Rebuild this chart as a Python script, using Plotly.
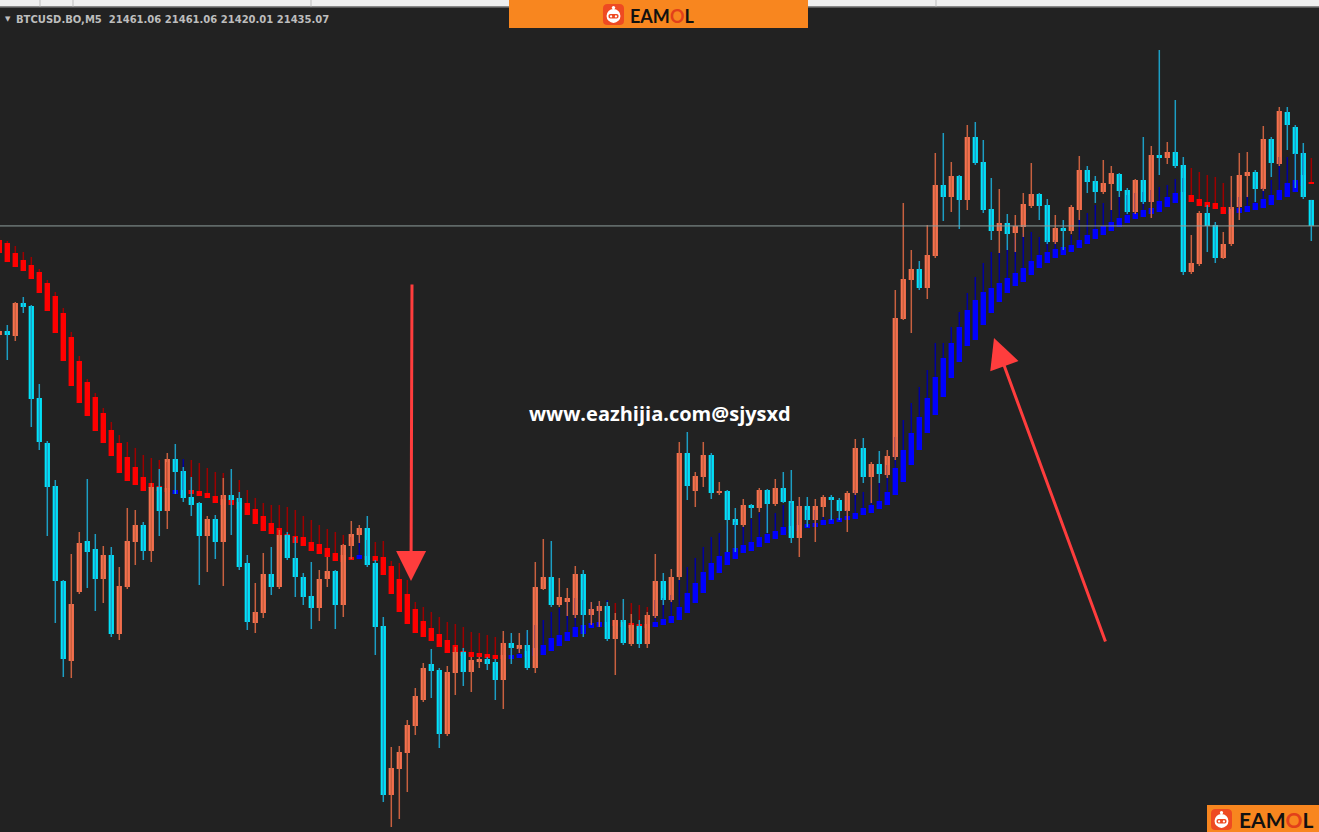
import plotly.graph_objects as go

W, H = 1319, 832

# ---------------- data ----------------
bar_index = list(range(-1, 164))

opens = [21326, 21330, 21325, 21358, 21355, 21263, 21218, 21175, 21080, 21000,
         21069, 21120, 21112, 21082, 21106, 21027, 21074, 21119, 21136, 21110,
         21174, 21150, 21202, 21190, 21164, 21158, 21125, 21142, 21119, 21166,
         21163, 21098, 21038, 21048, 21087, 21074, 21126, 21103, 21084, 21065,
         21053, 21082, 21090, 21056, 21115, 21126, 21133, 21098, 21035, 20866,
         20892, 20908, 20935, 20961, 20997, 20991, 20927, 20988, 21009, 20989,
         20999, 21002, 20999, 20981, 21018, 21012, 21016, 20993, 21072, 21084,
         21056, 21059, 21046, 21087, 21046, 21050, 21055, 21022, 21041, 21017,
         21035, 21017, 21045, 21080, 21061, 21084, 21208, 21170, 21184, 21206,
         21168, 21170, 21142, 21136, 21156, 21153, 21171, 21157, 21173, 21160,
         21123, 21155, 21141, 21154, 21164, 21161, 21150, 21168, 21213, 21184,
         21197, 21186, 21204, 21342, 21381, 21392, 21373, 21405, 21476, 21464,
         21485, 21461, 21524, 21499, 21452, 21430, 21438, 21428, 21434, 21455,
         21467, 21456, 21419, 21433, 21430, 21451, 21491, 21480, 21469, 21477,
         21487, 21471, 21449, 21481, 21459, 21506, 21503, 21509, 21496, 21389,
         21397, 21448, 21436, 21403, 21417, 21454, 21485, 21489, 21472, 21522,
         21497, 21549, 21534, 21508, 21461.06]

highs = [21332, 21336, 21359, 21364, 21356, 21277, 21220, 21181, 21081, 21107,
         21129, 21182, 21127, 21115, 21114, 21094, 21153, 21151, 21139, 21178,
         21192, 21208, 21217, 21194, 21184, 21159, 21145, 21146, 21183, 21192,
         21169, 21106, 21078, 21108, 21114, 21131, 21129, 21124, 21088, 21099,
         21091, 21104, 21091, 21117, 21140, 21136, 21145, 21101, 21044, 20914,
         20915, 20941, 20973, 20998, 21012, 20993, 20995, 21014, 21013, 21004,
         21004, 21004, 21002, 21030, 21028, 21028, 21031, 21099, 21122, 21120,
         21083, 21073, 21095, 21091, 21059, 21060, 21059, 21048, 21062, 21047,
         21041, 21049, 21107, 21088, 21092, 21219, 21229, 21189, 21219, 21208,
         21179, 21171, 21153, 21162, 21157, 21173, 21172, 21182, 21189, 21191,
         21164, 21164, 21162, 21166, 21166, 21163, 21170, 21222, 21223, 21199,
         21210, 21211, 21371, 21458, 21411, 21400, 21436, 21508, 21528, 21499,
         21486, 21536, 21539, 21521, 21483, 21472, 21447, 21446, 21468, 21498,
         21468, 21462, 21446, 21441, 21456, 21505, 21495, 21485, 21501, 21495,
         21488, 21473, 21482, 21524, 21515, 21611, 21519, 21561, 21504, 21426,
         21450, 21456, 21439, 21429, 21485, 21508, 21509, 21491, 21535, 21524,
         21554, 21554, 21536, 21518, 21461.06]

lows = [21323, 21301, 21320, 21348, 21234, 21211, 21125, 21038, 20984, 20983,
        21067, 21073, 21050, 21058, 21024, 21021, 21072, 21096, 21101, 21099,
        21125, 21132, 21167, 21159, 21145, 21076, 21089, 21102, 21075, 21126,
        21091, 21031, 21028, 21043, 21066, 21072, 21101, 21064, 21056, 21032,
        21040, 21074, 21032, 21044, 21102, 21118, 21094, 21006, 20859, 20834,
        20842, 20869, 20926, 20959, 20963, 20913, 20925, 20966, 20975, 20969,
        20993, 20991, 20961, 20952, 20997, 21008, 20991, 20988, 21071, 21054,
        21054, 21045, 21043, 21024, 21036, 21034, 21020, 20986, 21016, 21015,
        21013, 21013, 21043, 21056, 21059, 21081, 21161, 21154, 21174, 21162,
        21166, 21109, 21109, 21134, 21143, 21149, 21128, 21155, 21158, 21118,
        21104, 21134, 21119, 21144, 21141, 21141, 21129, 21166, 21178, 21158,
        21178, 21183, 21201, 21341, 21328, 21371, 21362, 21403, 21440, 21449,
        21432, 21451, 21496, 21448, 21421, 21408, 21411, 21409, 21424, 21453,
        21441, 21417, 21417, 21411, 21427, 21441, 21468, 21458, 21467, 21451,
        21464, 21447, 21447, 21457, 21443, 21486, 21497, 21493, 21386, 21387,
        21395, 21409, 21398, 21402, 21415, 21441, 21464, 21459, 21470, 21484,
        21495, 21511, 21473, 21462, 21420.01]

closes = [21330, 21326, 21358, 21354, 21262, 21219, 21174, 21080, 21002, 21057,
          21118, 21109, 21082, 21106, 21027, 21075, 21120, 21136, 21110, 21174,
          21150, 21202, 21189, 21163, 21156, 21125, 21142, 21119, 21166, 21161,
          21094, 21039, 21049, 21087, 21074, 21126, 21103, 21084, 21064, 21053,
          21082, 21090, 21056, 21116, 21127, 21133, 21096, 21034, 20866, 20893,
          20909, 20936, 20965, 20993, 20990, 20927, 20989, 21009, 20989, 21001,
          21002, 20997, 20981, 21018, 21013, 21016, 20993, 21074, 21084, 21056,
          21064, 21063, 21087, 21046, 21052, 21055, 21022, 21041, 21018, 21036,
          21017, 21046, 21080, 21061, 21084, 21208, 21175, 21185, 21206, 21168,
          21170, 21141, 21136, 21156, 21153, 21171, 21157, 21173, 21159, 21123,
          21155, 21141, 21155, 21164, 21161, 21150, 21168, 21213, 21184, 21197,
          21187, 21205, 21343, 21382, 21392, 21373, 21406, 21476, 21464, 21485,
          21461, 21524, 21498, 21451, 21430, 21438, 21427, 21435, 21457, 21467,
          21455, 21419, 21433, 21430, 21454, 21491, 21479, 21469, 21478, 21488,
          21470, 21449, 21481, 21459, 21506, 21503, 21509, 21495, 21389, 21398,
          21448, 21435, 21403, 21417, 21454, 21486, 21489, 21472, 21522, 21498,
          21550, 21536, 21507, 21464, 21435.07]

# smoothed Heiken-Ashi style band
ha_open = [21421, 21418, 21408, 21401, 21396, 21389, 21378, 21365, 21348, 21324,
           21300, 21279, 21264, 21248, 21231, 21218, 21204, 21194, 21184, 21178,
           21175, 21173, 21167, 21166, 21171, 21170, 21168, 21165, 21162, 21161,
           21159, 21158, 21152, 21145, 21138, 21133, 21127, 21125, 21124, 21119,
           21117, 21113, 21108, 21106, 21104, 21102, 21105, 21105, 21104, 21095,
           21082, 21067, 21052, 21040, 21033, 21027, 21021, 21016, 21010, 21009,
           21008, 21007, 21006, 21006, 21002, 21003, 21004, 21005, 21006, 21010,
           21015, 21020, 21024, 21027, 21033, 21034, 21034, 21041, 21039, 21038,
           21037, 21037, 21034, 21036, 21038, 21041, 21048, 21058, 21068, 21081,
           21088, 21096, 21102, 21108, 21110, 21114, 21118, 21122, 21126, 21128,
           21130, 21133, 21134, 21136, 21137, 21139, 21141, 21142, 21146, 21148,
           21152, 21156, 21166, 21179, 21196, 21211, 21228, 21246, 21264, 21283,
           21299, 21315, 21321, 21336, 21348, 21359, 21368, 21375, 21379, 21386,
           21393, 21398, 21403, 21406, 21409, 21413, 21417, 21422, 21426, 21430,
           21434, 21438, 21442, 21444, 21447, 21449, 21454, 21458, 21461, 21466,
           21462, 21459, 21458, 21454, 21447, 21448, 21449, 21451, 21453, 21456,
           21461, 21464, 21469, 21475, 21479]

ha_close = [21408, 21399, 21394, 21390, 21382, 21368, 21350, 21328, 21300, 21275,
            21258, 21245, 21230, 21218, 21205, 21188, 21180, 21176, 21170, 21173,
            21170, 21169, 21171, 21171, 21167, 21165, 21163, 21158, 21156, 21156,
            21152, 21146, 21137, 21130, 21127, 21126, 21121, 21118, 21115, 21110,
            21107, 21104, 21100, 21099, 21101, 21106, 21101, 21100, 21086, 21067,
            21049, 21037, 21028, 21024, 21020, 21014, 21008, 21008, 21005, 21004,
            21004, 21003, 21002, 21002, 21006, 21007, 21010, 21013, 21016, 21023,
            21026, 21029, 21034, 21036, 21038, 21039, 21039, 21035, 21034, 21033,
            21032, 21033, 21039, 21042, 21045, 21054, 21068, 21078, 21089, 21098,
            21105, 21109, 21113, 21116, 21119, 21124, 21127, 21130, 21134, 21135,
            21136, 21137, 21138, 21141, 21142, 21143, 21145, 21148, 21153, 21156,
            21160, 21169, 21193, 21211, 21228, 21244, 21263, 21284, 21303, 21318,
            21334, 21351, 21361, 21369, 21373, 21378, 21383, 21388, 21393, 21400,
            21406, 21409, 21412, 21414, 21416, 21421, 21426, 21432, 21435, 21439,
            21443, 21446, 21448, 21451, 21453, 21460, 21464, 21468, 21469, 21459,
            21455, 21454, 21452, 21447, 21452, 21453, 21455, 21458, 21462, 21466,
            21471, 21478, 21481, 21486, 21477]

ha_high = [21424, 21420, 21415, 21409, 21404, 21392, 21381, 21369, 21353, 21329,
           21305, 21282, 21268, 21253, 21239, 21226, 21219, 21213, 21206, 21203,
           21201, 21199, 21176, 21202, 21201, 21198, 21193, 21189, 21188, 21183,
           21181, 21171, 21163, 21158, 21156, 21156, 21154, 21151, 21145, 21141,
           21136, 21132, 21129, 21126, 21124, 21124, 21121, 21119, 21120, 21100,
           21098, 21081, 21059, 21054, 21049, 21044, 21039, 21037, 21034, 21029,
           21028, 21026, 21024, 21023, 21011, 21013, 21029, 21036, 21041, 21049,
           21053, 21059, 21063, 21061, 21059, 21059, 21061, 21058, 21058, 21058,
           21056, 21054, 21061, 21063, 21066, 21081, 21094, 21103, 21114, 21124,
           21128, 21136, 21139, 21135, 21142, 21148, 21154, 21148, 21156, 21158,
           21161, 21151, 21151, 21144, 21146, 21146, 21151, 21171, 21169, 21176,
           21178, 21196, 21224, 21241, 21258, 21274, 21291, 21318, 21318, 21334,
           21349, 21368, 21384, 21398, 21409, 21408, 21416, 21424, 21428, 21429,
           21424, 21421, 21421, 21423, 21426, 21443, 21448, 21456, 21458, 21461,
           21464, 21466, 21468, 21469, 21471, 21474, 21476, 21482, 21483, 21493,
           21489, 21486, 21484, 21478, 21464, 21464, 21466, 21468, 21473, 21481,
           21504, 21504, 21508, 21511, 21503]

symbol_label = "BTCUSD.BO,M5"
last_quote = [21461.06, 21461.06, 21420.01, 21435.07]
bid_price = 21435.07
watermark = "www.eazhijia.com@sjysxd"
brand = "EAMOL"

# ---------------- styles ----------------
BG = "#222222"
BULL, BULL_W = "#F6714E", "#C8603F"
BEAR, BEAR_W = "#00E3FA", "#1C9EC4"
HA_UP, HA_UP_W = "#0000FF", "#0000A0"
HA_DN, HA_DN_W = "#FF0000", "#9E0000"
ORANGE = "#F8861F"
ARROW = "#FF3D3D"


def px(x):
    return x / W


def py(y):
    return 1 - y / H


def segments(xs, a, b):
    X, Y = [], []
    for x, y0, y1 in zip(xs, a, b):
        X += [x, x, None]
        Y += [y0, y1, None]
    return X, Y


fig = go.Figure()
n = len(bar_index)

# indicator band
ha_up = [ha_close[k] > ha_open[k] for k in range(n)]
for flag, col in ((True, HA_UP_W), (False, HA_DN_W)):
    sel = [k for k in range(n) if ha_up[k] == flag]
    X, Y = segments([bar_index[k] for k in sel],
                    [max(ha_open[k], ha_close[k]) for k in sel],
                    [ha_high[k] for k in sel])
    fig.add_trace(go.Scatter(x=X, y=Y, mode="lines", line=dict(color=col, width=1.5),
                             hoverinfo="skip"))
fig.add_trace(go.Bar(
    x=bar_index,
    base=[min(o, c) for o, c in zip(ha_open, ha_close)],
    y=[abs(c - o) for o, c in zip(ha_open, ha_close)],
    width=0.68,
    marker=dict(color=[HA_UP if u else HA_DN for u in ha_up], line=dict(width=0)),
    hoverinfo="skip"))

# price candles
bull = [closes[k] >= opens[k] for k in range(n)]
for flag, col in ((True, BULL_W), (False, BEAR_W)):
    sel = [k for k in range(n) if bull[k] == flag]
    X, Y = segments([bar_index[k] for k in sel],
                    [lows[k] for k in sel], [highs[k] for k in sel])
    fig.add_trace(go.Scatter(x=X, y=Y, mode="lines", line=dict(color=col, width=1.5),
                             hoverinfo="skip"))
fig.add_trace(go.Bar(
    x=bar_index,
    base=[min(o, c) for o, c in zip(opens, closes)],
    y=[max(abs(c - o), 1.5) for o, c in zip(opens, closes)],
    width=0.66,
    marker=dict(color=[BULL if b else BEAR for b in bull], line=dict(width=0)),
    hoverinfo="skip"))

shapes = []
# bid line
shapes.append(dict(type="line", xref="paper", x0=0, x1=1, yref="y", y0=bid_price, y1=bid_price,
                   line=dict(color="#8E9E9C", width=1)))
# top toolbar strip
shapes.append(dict(type="rect", xref="paper", yref="paper", x0=0, x1=1, y0=py(6.5), y1=1,
                   fillcolor="#EEEEEE", line=dict(width=0)))
shapes.append(dict(type="line", xref="paper", yref="paper", x0=0, x1=1, y0=py(7.5), y1=py(7.5),
                   line=dict(color="#5A5A5A", width=1)))
for sx in (40, 73, 311, 936):
    shapes.append(dict(type="line", xref="paper", yref="paper", x0=px(sx), x1=px(sx),
                       y0=py(6.5), y1=1, line=dict(color="#BDBDBD", width=1)))


def rounded_path(x0, y0, x1, y1, r):
    pts = [("M", x0 + r, y0), ("L", x1 - r, y0), ("Q", x1, y0, x1, y0 + r), ("L", x1, y1 - r),
           ("Q", x1, y1, x1 - r, y1), ("L", x0 + r, y1), ("Q", x0, y1, x0, y1 - r),
           ("L", x0, y0 + r), ("Q", x0, y0, x0 + r, y0)]
    s = ""
    for p in pts:
        cmd = p[0]
        coords = p[1:]
        s += cmd + " " + " ".join(f"{px(coords[i]):.5f},{py(coords[i + 1]):.5f}"
                                  for i in range(0, len(coords), 2)) + " "
    return s + "Z"


annotations = []


def logo(bx0, by0, bx1, by1, ix, iy, isz, tx, ty, fsz):
    shapes.append(dict(type="rect", xref="paper", yref="paper", x0=px(bx0), x1=px(bx1),
                       y0=py(by1), y1=py(by0), fillcolor=ORANGE, line=dict(width=0)))
    shapes.append(dict(type="path", xref="paper", yref="paper",
                       path=rounded_path(ix, iy, ix + isz, iy + isz, isz * 0.22),
                       fillcolor="#EE4A22", line=dict(width=0)))
    cx, cy, r = ix + isz / 2, iy + isz * 0.57, isz * 0.33
    shapes.append(dict(type="circle", xref="paper", yref="paper", x0=px(cx - r), x1=px(cx + r),
                       y0=py(cy + r), y1=py(cy - r), fillcolor="white", line=dict(width=0)))
    shapes.append(dict(type="line", xref="paper", yref="paper", x0=px(cx), x1=px(cx),
                       y0=py(cy - r), y1=py(iy + isz * 0.17), line=dict(color="white", width=1.5)))
    ar = isz * 0.08
    shapes.append(dict(type="circle", xref="paper", yref="paper", x0=px(cx - ar), x1=px(cx + ar),
                       y0=py(iy + isz * 0.17 + ar), y1=py(iy + isz * 0.17 - ar),
                       fillcolor="white", line=dict(width=0)))
    shapes.append(dict(type="path", xref="paper", yref="paper",
                       path=rounded_path(cx - r * 0.72, cy - r * 0.3, cx + r * 0.72, cy + r * 0.35, r * 0.25),
                       fillcolor="#EE4A22", line=dict(width=0)))
    er = isz * 0.055
    for ex in (cx - r * 0.35, cx + r * 0.35):
        shapes.append(dict(type="circle", xref="paper", yref="paper", x0=px(ex - er), x1=px(ex + er),
                           y0=py(cy + 0.02 * isz + er), y1=py(cy + 0.02 * isz - er),
                           fillcolor="white", line=dict(width=0)))
    txt = brand[:3] + f"<span style='color:#E2401A'>{brand[3]}</span>" + brand[4:]
    annotations.append(dict(xref="paper", yref="paper", x=px(tx), y=py(ty), xanchor="left",
                            yanchor="middle", text=txt, showarrow=False,
                            font=dict(family="Lato", size=fsz, color="#111111", weight="bold")))


logo(509, 0, 808, 28, 603, 4, 21, 628, 15.5, 18)
logo(1207, 805, 1319, 832, 1211, 809, 21, 1237, 819.5, 21)

# header
annotations.append(dict(xref="paper", yref="paper", x=px(3), y=py(19), xanchor="left", yanchor="middle",
                        text="\u25BC", showarrow=False, font=dict(family="DejaVu Sans", size=7, color="#C0C0C0")))
header = symbol_label + "\u00a0\u00a0" + " ".join(f"{v:.2f}" for v in last_quote)
annotations.append(dict(xref="paper", yref="paper", x=px(14), y=py(19.5), xanchor="left", yanchor="middle",
                        text=f"<b>{header}</b>", showarrow=False,
                        font=dict(family="DejaVu Sans", size=10, color="#BDBDBD")))
# watermark
annotations.append(dict(xref="paper", yref="paper", x=px(660), y=py(413), xanchor="center", yanchor="middle",
                        text=f"<b>{watermark}</b>", showarrow=False,
                        font=dict(family="Open Sans", size=20, color="white")))
# arrows
annotations.append(dict(xref="paper", yref="paper", x=px(411), y=py(581), ax=1, ay=-298, text="",
                        showarrow=True, arrowhead=2, arrowsize=2.0, arrowwidth=3, arrowcolor=ARROW, standoff=0))
annotations.append(dict(xref="paper", yref="paper", x=px(994), y=py(338), ax=112, ay=305, text="",
                        showarrow=True, arrowhead=2, arrowsize=2.0, arrowwidth=3, arrowcolor=ARROW, standoff=0))

fig.update_layout(
    width=W, height=H,
    margin=dict(l=0, r=0, t=0, b=0, pad=0),
    paper_bgcolor=BG, plot_bgcolor=BG,
    showlegend=False, barmode="overlay", hovermode=False,
    xaxis=dict(range=[-0.9125, 163.9625], visible=False, fixedrange=True),
    yaxis=dict(range=[20829, 21661], visible=False, fixedrange=True),
    shapes=shapes, annotations=annotations,
)

fig.write_html("out.html", config={"displayModeBar": False, "staticPlot": True},
               post_script="document.body.style.margin='0';document.body.style.overflow='hidden';")
